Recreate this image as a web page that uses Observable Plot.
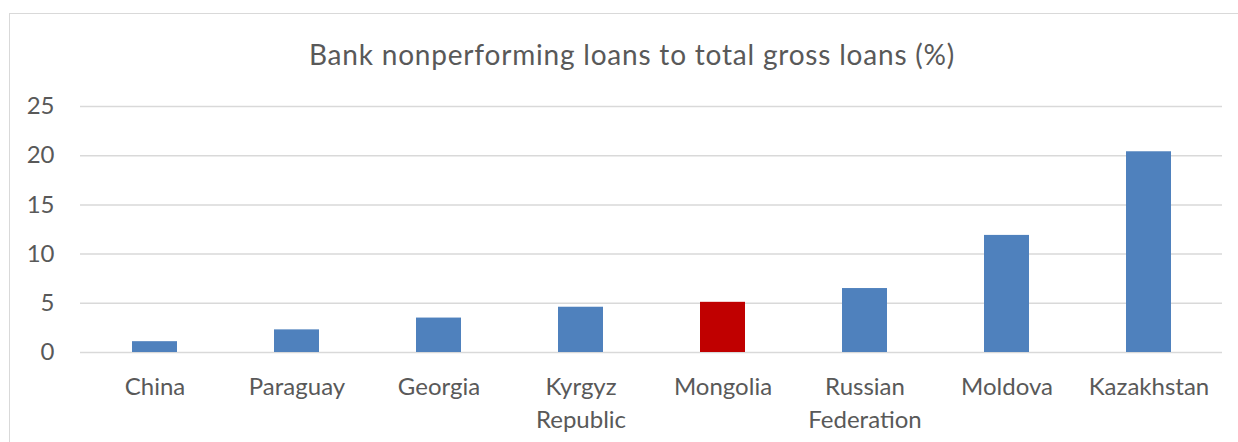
<!DOCTYPE html>
<html>
<head>
<meta charset="utf-8">
<script src="https://cdn.jsdelivr.net/npm/d3@7"></script>
<script src="https://cdn.jsdelivr.net/npm/@observablehq/plot@0.6"></script>
<style>
  html, body { margin: 0; padding: 0; background: #fff; }
  #wrap { position: relative; width: 1238px; height: 442px; overflow: hidden; font-family: Lato, "Open Sans", sans-serif; }
  #frame { position: absolute; left: 9px; top: 13px; width: 1300px; height: 500px; border: 1.5px solid #d9d9d9; box-sizing: border-box; }
  #title { position: absolute; left: 0; width: 1264px; top: 37px; line-height: 34px; text-align: center; font-size: 28px; letter-spacing: 0.8px; color: #595959; }
  #chart { position: absolute; left: 0; top: 0; }
</style>
</head>
<body>
<div id="wrap">
  <div id="frame"></div>
  <div id="title">Bank nonperforming loans to total gross loans (%)</div>
  <div id="chart"></div>
</div>
<script>
const countries = ["China", "Paraguay", "Georgia", "Kyrgyz\nRepublic", "Mongolia", "Russian\nFederation", "Moldova", "Kazakhstan"];
const values = [1.1, 2.3, 3.5, 4.6, 5.1, 6.5, 11.9, 20.4];
const highlight = "Mongolia";
const yTicks = [0, 5, 10, 15, 20, 25];

const data = countries.map((c, i) => ({country: c, value: values[i]}));

const plot = Plot.plot({
  width: 1238,
  height: 442,
  marginLeft: 80,
  marginRight: 16,
  marginTop: 106,
  marginBottom: 90,
  style: {fontFamily: "Lato, 'Open Sans', sans-serif", fontSize: "24px", color: "#595959", background: "transparent"},
  x: {domain: countries, paddingInner: 0.685, paddingOuter: 0.3425, label: null},
  y: {domain: [0, 25], label: null},
  marks: [
    Plot.ruleY(yTicks, {stroke: "#d9d9d9", strokeWidth: 1.5}),
    Plot.barY(data, {x: "country", y: "value", fill: d => d.country === highlight ? "#c00000" : "#4f81bd"}),
    Plot.axisY({ticks: yTicks, tickSize: 0, tickPadding: 26, fontSize: 24, fill: "#595959"}),
    Plot.axisX({tickSize: 0, tickPadding: 19, fontSize: 24, fill: "#595959", lineHeight: 1.38})
  ]
});
document.getElementById("chart").appendChild(plot);
</script>
</body>
</html>
